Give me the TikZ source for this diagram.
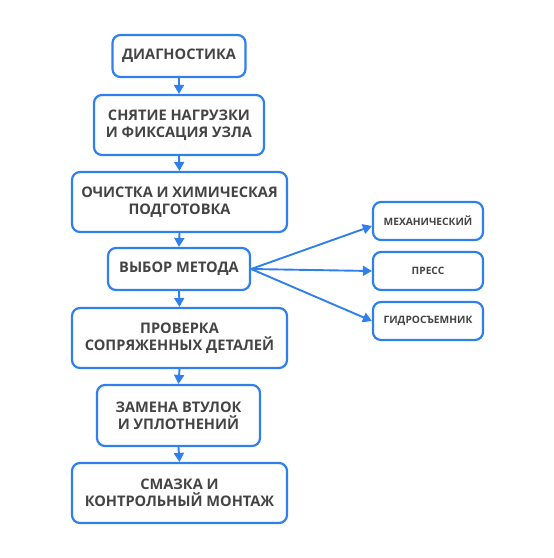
\documentclass[tikz,border=0pt]{standalone}
\usepackage{fontspec}
\setmainfont{Open Sans}
\usetikzlibrary{arrows.meta}
\definecolor{bl}{HTML}{2F80ED}
\definecolor{tx}{HTML}{444444}
\begin{document}
\begin{tikzpicture}[x=1pt,y=-1pt,
  box/.style={draw=bl,line width=2.2pt,rounded corners=8pt,fill=white,align=center,text=tx,
    font=\fontsize{14.6}{17.3}\selectfont\bfseries,inner sep=0pt},
  sbox/.style={box,font=\fontsize{10.2}{12}\selectfont\bfseries},
  arr/.style={draw=bl,line width=1.9pt,-{Triangle[length=9pt,width=10pt]}}]
\useasboundingbox (0,0) rectangle (554,558);
\node[box,minimum width=133pt,minimum height=42pt] (b1) at (179,56) {ДИАГНОСТИКА};
\node[box,minimum width=170pt,minimum height=60pt] (b2) at (179,125) {СНЯТИЕ НАГРУЗКИ\\И ФИКСАЦИЯ УЗЛА};
\node[box,minimum width=215pt,minimum height=60pt] (b3) at (179.5,202) {ОЧИСТКА И ХИМИЧЕСКАЯ\\ПОДГОТОВКА};
\node[box,minimum width=142pt,minimum height=42pt] (b4) at (179,269) {ВЫБОР МЕТОДА};
\node[box,minimum width=215pt,minimum height=60pt] (b5) at (179.5,338) {ПРОВЕРКА\\СОПРЯЖЕННЫХ ДЕТАЛЕЙ};
\node[box,minimum width=163pt,minimum height=61pt] (b6) at (178.5,415.5) {ЗАМЕНА ВТУЛОК\\И УПЛОТНЕНИЙ};
\node[box,minimum width=215pt,minimum height=60pt] (b7) at (179.5,493) {СМАЗКА И\\КОНТРОЛЬНЫЙ МОНТАЖ};
\node[sbox,minimum width=110pt,minimum height=38pt] (r1) at (428,221) {МЕХАНИЧЕСКИЙ};
\node[sbox,minimum width=110pt,minimum height=38pt] (r2) at (428,271) {ПРЕСС};
\node[sbox,minimum width=110pt,minimum height=38pt] (r3) at (428,321) {ГИДРОСЪЕМНИК};
\draw[arr] (b1.south) -- (b2.north);
\draw[arr] (b2.south) -- (b3.north);
\draw[arr] (b3.south) -- (b4.north);
\draw[arr] (b4.south) -- (b5.north);
\draw[arr] (b5.south) -- (b6.north);
\draw[arr] (b6.south) -- (b7.north);
\draw[arr] (b4.east) -- ([yshift=-5pt]r1.west);
\draw[arr] (b4.east) -- (r2.west);
\draw[arr] (b4.east) -- (r3.west);
\end{tikzpicture}
\end{document}
